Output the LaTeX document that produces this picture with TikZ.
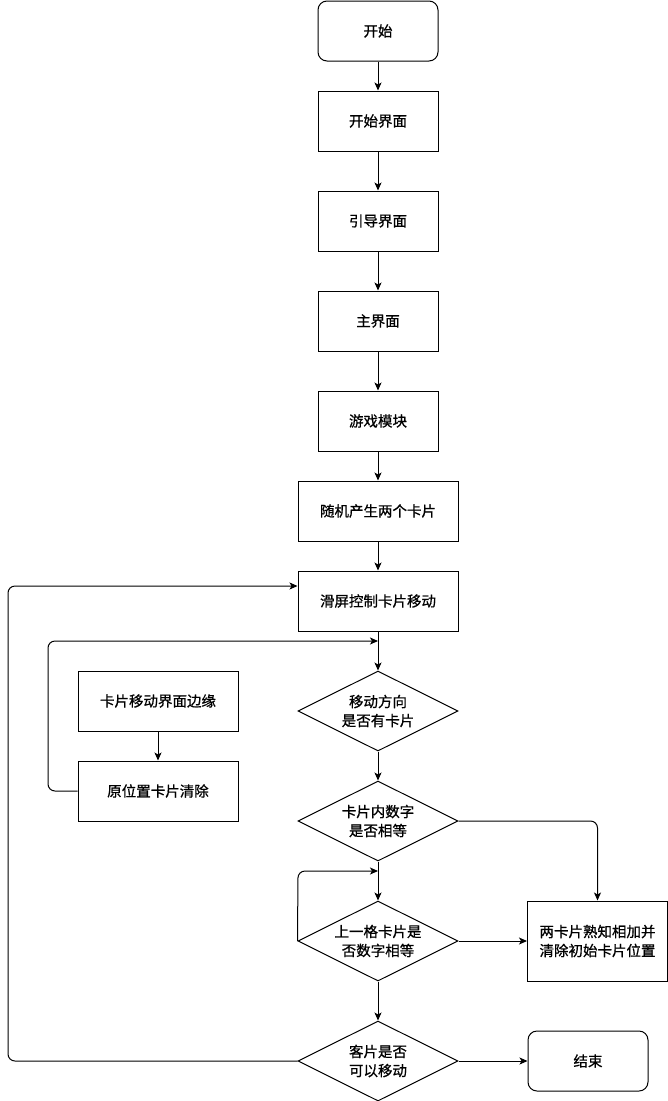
\documentclass[tikz,border=0pt]{standalone}
\usepackage{fontspec}
\setmainfont{Noto Sans CJK SC}[FakeBold=0.8]
\usetikzlibrary{shapes.geometric,arrows.meta,calc}
\begin{document}
\begin{tikzpicture}[x=1pt,y=-1pt,
  every node/.style={font=\fontsize{14.5}{19}\selectfont, align=center},
  box/.style={draw, line width=1pt, minimum width=120pt, minimum height=60pt, inner sep=0pt},
  wbox/.style={box, minimum width=160pt},
  term/.style={box, rounded corners=9pt},
  dia/.style={draw, line width=1pt, diamond, minimum width=160pt, minimum height=80pt, inner sep=0pt},
  arr/.style={draw, line width=1pt, -{Stealth[length=8pt,width=7pt,inset=2pt]}},
  ln/.style={draw, line width=1pt, rounded corners=7pt}
]
\useasboundingbox (0,0) rectangle (668,1101);
\node[term] (start) at (378,31) {开始};
\node[box] (s1) at (378,121) {开始界面};
\node[box] (s2) at (378,221) {引导界面};
\node[box] (s3) at (378,321) {主界面};
\node[box] (s4) at (378,421) {游戏模块};
\node[wbox] (s5) at (378,511) {随机产生两个卡片};
\node[wbox] (s6) at (378,601) {滑屏控制卡片移动};
\node[dia, label={[align=center]center:移动方向\\是否有卡片}] (d1) at (378,711) {};
\node[wbox] (r1) at (158,701) {卡片移动界面边缘};
\node[wbox] (r2) at (158,791) {原位置卡片清除};
\node[dia, label={[align=center]center:卡片内数字\\是否相等}] (d2) at (378,821) {};
\node[dia, label={[align=center]center:上一格卡片是\\否数字相等}] (d3) at (378,941) {};
\node[box, minimum width=140pt, minimum height=80pt] (r3) at (597.5,941) {两卡片熟知相加并\\清除初始卡片位置};
\node[dia, label={[align=center]center:客片是否\\可以移动}] (d4) at (378,1061) {};
\node[term] (end) at (588,1061) {结束};
\coordinate (j1) at (378,641);
\coordinate (j2) at (378,871);
\draw[arr] (start) -- (s1);
\draw[arr] (s1) -- (s2);
\draw[arr] (s2) -- (s3);
\draw[arr] (s3) -- (s4);
\draw[arr] (s4) -- (s5);
\draw[arr] (s5) -- (s6);
\draw[arr] (s6) -- (d1);
\draw[arr] (r1) -- (r2);
\draw[arr] (d1) -- (d2);
\draw[arr] (d2) -- (d3);
\draw[arr] (d3) -- (d4);
\draw[arr] (d3) -- (r3);
\draw[arr] (d4) -- (end);
\draw[arr, rounded corners=7pt] (d2.east) -| (r3.north);
\draw[arr, rounded corners=7pt] (r2.west) -- (48,791) |- (j1);
\draw[arr, rounded corners=7pt] (d3.west) -- (298,871) -- (j2);
\draw[arr, rounded corners=7pt] (d4.west) -- (8,1061) |- ($(s6.west)+(0,-15)$);
\end{tikzpicture}
\end{document}
